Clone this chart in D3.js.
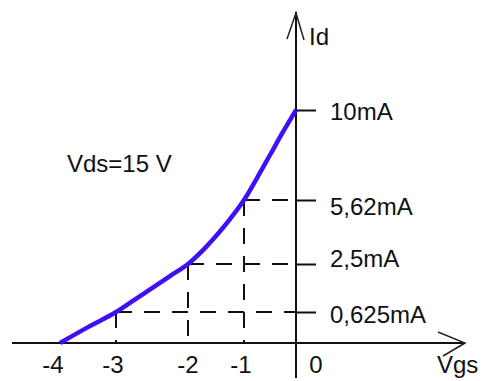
<!DOCTYPE html>
<html>
<head>
<meta charset="utf-8">
<script src="https://cdn.jsdelivr.net/npm/d3@7"></script>
<style>
  html, body { margin: 0; padding: 0; background: #fff; }
  svg { display: block; }
  text { font-family: "Liberation Sans", Arial, sans-serif; font-size: 24px; fill: #111; }
</style>
</head>
<body>
<svg id="chart" width="483" height="381"></svg>
<script>
// JFET transfer characteristic: drain current Id versus gate-source voltage Vgs

// Gate-source voltage (V) along the curve
const vgs = [-4, -3.5, -3, -2.75, -2.5, -2.25, -2, -1.75, -1.5, -1.25, -1, -0.75, -0.5, -0.25, 0];
// Drain current (mA) at each voltage
const id  = [0, 0.32, 0.625, 1.09, 1.56, 2.03, 2.5, 3.13, 3.87, 4.69, 5.62, 6.69, 7.81, 8.93, 10];

// Marked operating points
const markVgs = [-3, -2, -1];
const markId  = [0.625, 2.5, 5.62];

// Axis tick values and labels
const xTicks = [-4, -3, -2, -1, 0];
const xTickLabels = ["-4", "-3", "-2", "-1", "0"];
const yTicks = [10, 5.62, 2.5, 0.625];
const yTickLabels = ["10mA", "5,62mA", "2,5mA", "0,625mA"];

const svg = d3.select("#chart");

// The sketch is not to scale, so both scales are piecewise-linear
const x = d3.scaleLinear()
  .domain([-4, -3, -2, -1, 0])
  .range([60, 116, 188, 244, 296]);
const y = d3.scaleLinear()
  .domain([0, 0.625, 2.5, 5.62, 10])
  .range([343, 312, 264, 200, 110]);

const ink = "#111";
const x0 = x(0), y0 = y(0);

// Dashed guide lines from each operating point to both axes
const guides = svg.append("g")
  .attr("stroke", ink)
  .attr("stroke-width", 2)
  .attr("stroke-dasharray", "16,12")
  .attr("fill", "none");
markVgs.forEach((v, i) => {
  guides.append("line")
    .attr("x1", x(v)).attr("y1", y(markId[i]))
    .attr("x2", x0).attr("y2", y(markId[i]));
  guides.append("line")
    .attr("x1", x(v)).attr("y1", y(markId[i]))
    .attr("x2", x(v)).attr("y2", y0);
});

// Vertical current axis with solid ticks and labels on the right
const yLabelNudge = { "10mA": 1, "5,62mA": 6, "2,5mA": -6, "0,625mA": 2 };
const yAxis = d3.axisRight(y)
  .tickValues(yTicks)
  .tickSize(20)
  .tickPadding(14)
  .tickFormat((d, i) => yTickLabels[i]);
const gy = svg.append("g")
  .attr("transform", `translate(${x0},0)`)
  .call(yAxis);
gy.select(".domain").remove();
gy.selectAll(".tick line").attr("stroke", ink).attr("stroke-width", 2);
gy.selectAll(".tick text")
  .attr("fill", ink)
  .style("font-size", "24px")
  .style("font-family", "'Liberation Sans', Arial, sans-serif")
  .attr("dy", function () { return (0.36 * 24 + (yLabelNudge[this.textContent] || 0)) + "px"; });

// Axis lines
const axes = svg.append("g").attr("stroke", ink).attr("fill", "none");
axes.append("line")
  .attr("x1", x0).attr("y1", 12).attr("x2", x0).attr("y2", 378)
  .attr("stroke-width", 2);
axes.append("line")
  .attr("x1", 12).attr("y1", y0).attr("x2", 465).attr("y2", y0)
  .attr("stroke-width", 2);

// Arrowheads
const arrows = svg.append("g").attr("stroke", "#222").attr("stroke-width", 1.5).attr("fill", "none");
arrows.append("path").attr("d", `M${x0 - 9},39 L${x0},13 L${x0 + 8},40`);
arrows.append("path").attr("d", `M438,332 L465,${y0} L443,356`);

// Transfer curve
const line = d3.line()
  .x((d, i) => x(vgs[i]))
  .y((d, i) => y(id[i]))
  .curve(d3.curveMonotoneX);
svg.append("path")
  .datum(vgs)
  .attr("d", line)
  .attr("fill", "none")
  .attr("stroke", "#400ef8")
  .attr("stroke-width", 4.5)
  .attr("stroke-linejoin", "round");

// Voltage labels below the horizontal axis
const xLabelNudge = { "-4": -7, "-3": -3, "-2": 0, "-1": -3, "0": 20 };
svg.append("g")
  .selectAll("text")
  .data(xTicks)
  .join("text")
  .attr("x", (d, i) => x(d) + xLabelNudge[xTickLabels[i]])
  .attr("y", 373)
  .attr("text-anchor", "middle")
  .text((d, i) => xTickLabels[i]);

// Axis titles and operating condition
svg.append("text").attr("x", 309).attr("y", 45).text("Id");
svg.append("text").attr("x", 437).attr("y", 373).text("Vgs");
svg.append("text").attr("x", 67).attr("y", 172).text("Vds=15 V");
</script>
</body>
</html>
